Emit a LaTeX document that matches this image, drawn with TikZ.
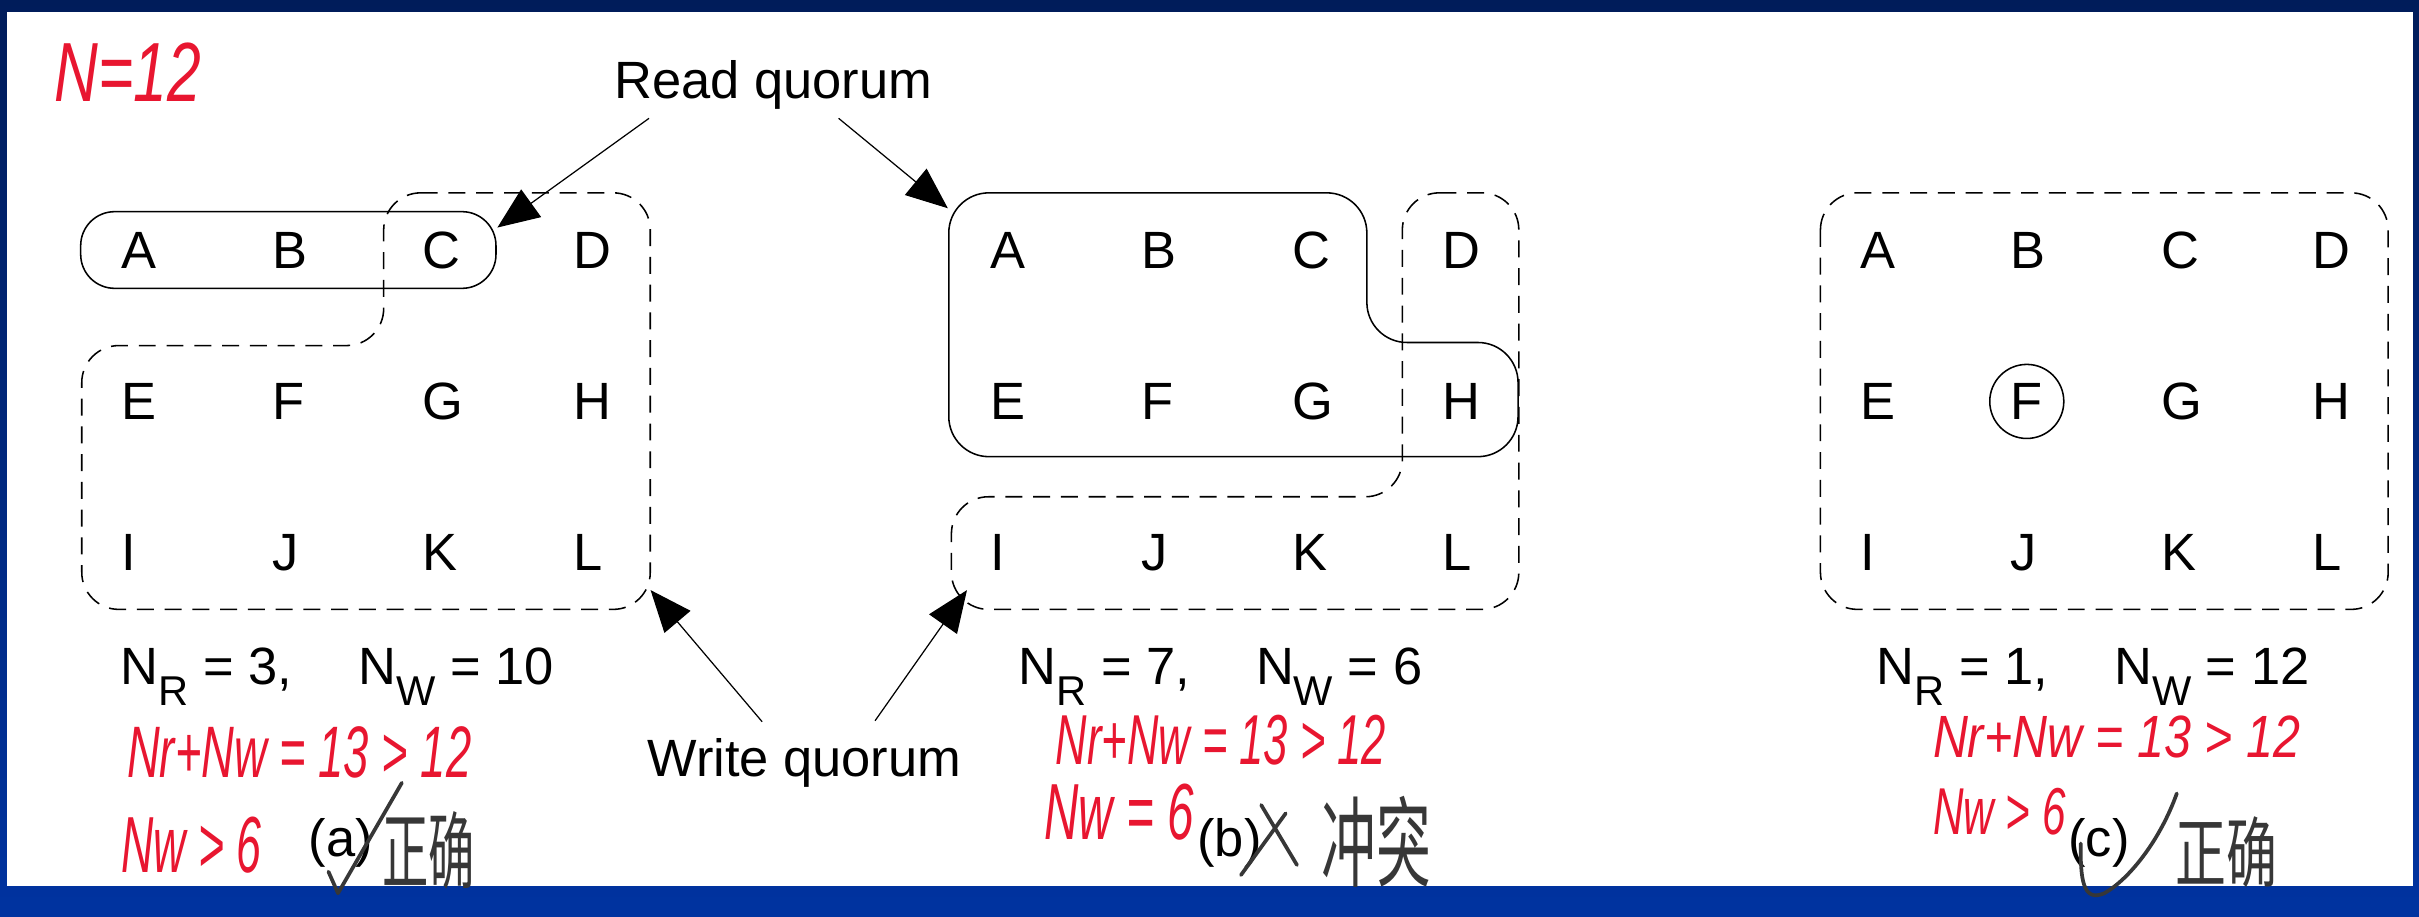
\documentclass[tikz,border=0pt]{standalone}
\usepackage{fontspec}
\usepackage{graphicx}
\setmainfont{Liberation Sans}
\newfontfamily\cjk{Noto Sans CJK SC}
\usetikzlibrary{arrows.meta}
\definecolor{navytop}{RGB}{0,28,90}
\definecolor{navybot}{RGB}{0,51,160}
\definecolor{handred}{RGB}{232,22,48}
\definecolor{pen}{RGB}{55,55,55}
\newcommand\sbx[1]{\raisebox{-13pt}{\fontsize{27}{30}\selectfont #1}}
\newcommand\hwbox[3]{\resizebox{#1pt}{#2pt}{\itshape #3}}
\newcommand\cjbox[3]{\resizebox{#1pt}{#2pt}{\cjk #3}}
\begin{document}
\begin{tikzpicture}[x=1pt,y=-1pt,
  letter/.style={anchor=base west,inner sep=0pt,font=\fontsize{34}{40}\selectfont},
  lbl/.style={anchor=base west,inner sep=0pt,font=\fontsize{34}{40}\selectfont},
  readq/.style={line width=1pt,rounded corners=22pt},
  writeq/.style={line width=1pt,rounded corners=24pt,dash pattern=on 11pt off 7pt},
  ptr/.style={line width=0.8pt,-{Triangle[length=27pt,width=22pt]}},
  hand/.style={handred,inner sep=0pt,anchor=center},
  penline/.style={pen,line width=2.4pt,line cap=round,line join=round},
  cjktext/.style={pen,inner sep=0pt,anchor=center}]
\useasboundingbox (0,0) rectangle (1568,594);
\shade[top color=navytop,bottom color=navybot] (0,0) rectangle (1568,594);
\fill[white] (4.5,8) rectangle (1564,574);

% letter grids
\foreach \p/\ox in {a/0,b/563.5,c/1127}{
  \foreach \L/\c/\r in {A/0/0,B/1/0,C/2/0,D/3/0,E/0/1,F/1/1,G/2/1,H/3/1,I/0/2,J/1/2,K/2/2,L/3/2}{
    \node[letter] (\p\L) at ({\ox+78.5+97.67*\c},{173.8+98.1*\r}) {\L};
  }
}

% panel (a) quorums
\draw[readq] (52.3,137.2) rectangle (321.5,186.9);
\draw[writeq] (248.7,125) -- (421.5,125) -- (421.5,395) -- (53,395) -- (53,224) -- (248.7,224) -- cycle;

% panel (b) quorums
\draw[readq,rounded corners=26pt] (615,125) -- (886,125) -- (886,222) -- (984,222) -- (984,296) -- (615,296) -- cycle;
\draw[writeq] (909,125) -- (984.5,125) -- (984.5,395) -- (616.7,395) -- (616.7,322) -- (909,322) -- cycle;

% panel (c) quorums
\draw[writeq] (1180,125) rectangle (1548,395);
\draw[line width=1pt] (cF.center) circle[radius=24pt];

% read quorum label and arrows
\node[lbl] (rq) at (398,63.7) {Read quorum};
\coordinate (rqs1) at (420.7,76.7);
\coordinate (rqt1) at (322.4,147.5);
\coordinate (rqs2) at (543.6,76.7);
\coordinate (rqt2) at (614.4,135);
\draw[ptr] (rqs1) -- (rqt1);
\draw[ptr] (rqs2) -- (rqt2);

% write quorum label and arrows
\node[lbl] (wq) at (419.5,503.5) {Write quorum};
\coordinate (wqs1) at (494,467.8);
\coordinate (wqt1) at (421.7,382.5);
\coordinate (wqs2) at (567.2,467.2);
\coordinate (wqt2) at (626.8,382.5);
\draw[ptr] (wqs1) -- (wqt1);
\draw[ptr] (wqs2) -- (wqt2);

% N labels
\node[lbl] (nra) at (78,444) {N\sbx{R} = 3,};
\node[lbl] (nwa) at (232.2,444) {N\sbx{W} = 10};
\node[lbl] (nrb) at (660,444) {N\sbx{R} = 7,};
\node[lbl] (nwb) at (814,444) {N\sbx{W} = 6};
\node[lbl] (nrc) at (1216.3,444) {N\sbx{R} = 1,};
\node[lbl] (nwc) at (1370.2,444) {N\sbx{W} = 12};

% captions
\node[lbl] (capa) at (200,555.3) {(a)};
\node[lbl] (capb) at (776,555) {(b)};
\node[lbl] (capc) at (1340.5,555) {(c)};

% handwritten red notes
\node[hand] (hN) at (83,47) {\hwbox{95}{38}{N=12}};
\node[hand] (ha1) at (194,488) {\hwbox{223}{33}{Nr+Nw = 13 > 12}};
\node[hand] (ha2) at (124,548) {\hwbox{91}{36}{Nw > 6}};
\node[hand] (hb1) at (791.5,480) {\hwbox{214}{32}{Nr+Nw = 13 > 12}};
\node[hand] (hb2) at (725.5,526.5) {\hwbox{97}{36}{Nw = 6}};
\node[hand] (hc1) at (1372,478) {\hwbox{238}{27}{Nr+Nw = 13 > 12}};
\node[hand] (hc2) at (1296,526) {\hwbox{86}{30}{Nw > 6}};

% handwritten marks
\draw[penline] (212.9,565) -- (219.1,579) -- (260.5,507.4);
\draw[penline] (817.5,521.8) -- (840.7,560.7);
\draw[penline] (833.4,527.2) -- (804.4,567.2);
\draw[penline] (1348.7,546.7) .. controls (1348.5,570) and (1350,585) .. (1364,579) .. controls (1380,570) and (1400,545) .. (1411,514.3);

% handwritten Chinese
\node[cjktext] (za) at (278,551) {\cjbox{60}{46}{正确}};
\node[cjktext] (zb) at (892,545.5) {\cjbox{71}{54}{冲突}};
\node[cjktext] (zc) at (1443,552.5) {\cjbox{66}{42}{正确}};
\end{tikzpicture}
\end{document}
